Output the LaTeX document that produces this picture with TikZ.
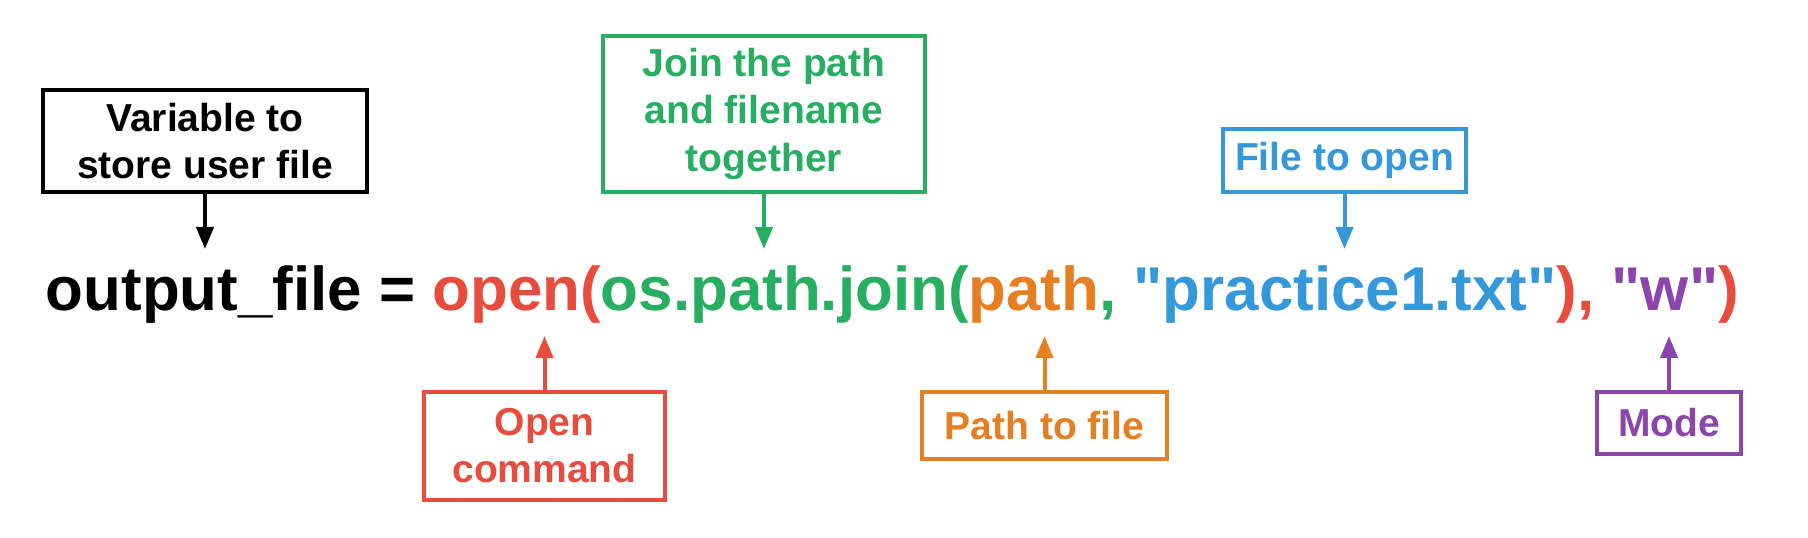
\documentclass[tikz,border=0pt]{standalone}
\usepackage{fontspec}
\setmainfont{Liberation Sans}
\newfontfamily\codefont{Liberation Sans}
\usepackage{xcolor}
\definecolor{cmdred}{RGB}{231, 76, 60}
\definecolor{joingreen}{RGB}{39, 174, 96}
\definecolor{pathorange}{RGB}{230, 126, 34}
\definecolor{fileblue}{RGB}{52, 152, 219}
\definecolor{modepurple}{RGB}{142, 68, 173}
\usetikzlibrary{arrows.meta, positioning}

\begin{document}
\begin{tikzpicture}[>={Triangle[length=0.22cm, width=0.17cm]}, line width=0.04cm,
    tag/.style={draw=#1, text=#1, align=center, inner sep=0pt, font=\fontsize{11.1}{13.4}\selectfont\bfseries}]
    \useasboundingbox (0,0) rectangle (18.08,5.37);

    % the line of code
    \node[anchor=base west, inner sep=0pt, text height=0.6cm, text depth=0.23cm,
          font=\codefont\fontsize{17.6}{20}\selectfont\bfseries] (code) at (0.44,2.26)
        {output\_file = \textcolor{cmdred}{open(}\textcolor{joingreen}{os.path.join(}\textcolor{pathorange}{path}\textcolor{joingreen}{,} \textcolor{fileblue}{"practice1.txt"}\textcolor{cmdred}{),} \textcolor{modepurple}{"w"}\textcolor{cmdred}{)}};

    % labels above
    \node[tag=black, minimum width=3.24cm, minimum height=1.02cm, anchor=south] (var) at (2.05,3.43) {Variable to\\store user file};
    \node[tag=joingreen, minimum width=3.22cm, minimum height=1.56cm, anchor=south] (join) at (7.64,3.43) {Join the path\\and filename\\together};
    \node[tag=fileblue, minimum width=2.43cm, minimum height=0.63cm, anchor=south] (file) at (13.445,3.43) {File to open};

    % labels below
    \node[tag=cmdred, minimum width=2.41cm, minimum height=1.08cm, anchor=north] (open) at (5.445,1.47) {Open\\command};
    \node[tag=pathorange, minimum width=2.45cm, minimum height=0.67cm, anchor=north] (path) at (10.445,1.47) {Path to file};
    \node[tag=modepurple, minimum width=1.44cm, minimum height=0.62cm, anchor=north] (mode) at (16.69,1.47) {Mode};

    \draw[->] (var) -- (var |- code.north);
    \draw[->, joingreen] (join) -- (join |- code.north);
    \draw[->, fileblue] (file) -- (file |- code.north);
    \draw[->, cmdred] (open) -- (open |- code.south);
    \draw[->, pathorange] (path) -- (path |- code.south);
    \draw[->, modepurple] (mode) -- (mode |- code.south);
\end{tikzpicture}
\end{document}
